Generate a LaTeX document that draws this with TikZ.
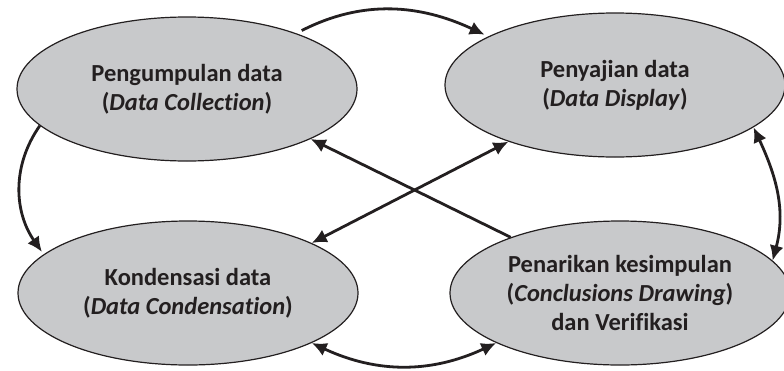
\documentclass[tikz,border=0pt]{standalone}
\usepackage{fontspec}
\setmainfont{Carlito}[Ligatures=NoCommon]
\usetikzlibrary{shapes.geometric, arrows.meta, positioning}
\definecolor{ovalgray}{RGB}{200,201,203}
\definecolor{inkgray}{RGB}{35,31,32}

\begin{document}
\begin{tikzpicture}[x=1pt, y=-1pt,
                        oval/.style={ellipse, draw=inkgray, line width=1.2pt, fill=ovalgray,
                                     minimum width=340pt, minimum height=144pt,
                                     inner xsep=-10pt, inner ysep=0pt, text=inkgray, align=center,
                                     font=\fontsize{24.5}{29}\selectfont\bfseries},
                        link/.style={draw=inkgray, line width=2.8pt, -{Latex[length=15pt,width=14pt]}},
                        twoway/.style={link, {Latex[length=15pt,width=14pt]}-{Latex[length=15pt,width=14pt]}}]

        \useasboundingbox (0,0) rectangle (784,370);

        % The four stages
        \node[oval] (collect) at (187,89) {Pengumpulan data\\(\textit{Data Collection})};
        \node[oval] (display) at (615,85) {Penyajian data\\(\textit{Data Display})};
        \node[oval] (condense) at (188,293) {Kondensasi data\\(\textit{Data Condensation})};
        \node[oval] (conclude) at (620,293) {Penarikan kesimpulan\\(\textit{Conclusions Drawing})\\dan Verifikasi};

        % Curved links round the outside
        \draw[link, shorten <=6pt, shorten >=4pt] (collect.27) to[out=27, in=155] (display.159);
        \draw[link, shorten >=3pt] (collect.194) to[out=235, in=125] (condense.165);
        \draw[twoway] (condense.338) to[out=-25, in=205] (conclude.202);
        \draw[twoway] (display.343) to[out=-65, in=75] (conclude.12);

        % Crossing links in the middle
        \draw[link] (conclude.153) -- (collect.338);
        \draw[twoway] (condense.22) -- (display.208);

    \end{tikzpicture}
\end{document}
